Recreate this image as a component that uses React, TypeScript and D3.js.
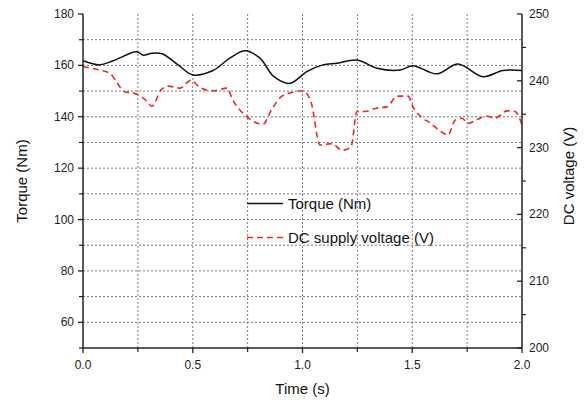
import React from "react";
import * as d3 from "d3";

const torqueTime = [0, 0.077, 0.137, 0.245, 0.273, 0.314, 0.36, 0.433, 0.501, 0.592, 0.67, 0.738, 0.806, 0.87, 0.943, 1.02, 1.093, 1.157, 1.248, 1.339, 1.444, 1.503, 1.613, 1.708, 1.822, 1.913, 2.0];
const torqueValues = [161.8, 160.2, 161.8, 165.3, 164.0, 164.7, 164.5, 160.2, 156.3, 158, 162.9, 165.7, 162.8, 155.6, 153, 157.6, 160.2, 160.8, 162.1, 158.9, 158.2, 159.9, 156.7, 160.5, 155.6, 158, 158];

const voltageTime = [0, 0.077, 0.123, 0.155, 0.187, 0.246, 0.282, 0.314, 0.355, 0.387, 0.442, 0.492, 0.533, 0.592, 0.656, 0.683, 0.747, 0.82, 0.861, 0.911, 1.002, 1.039, 1.08, 1.134, 1.18, 1.221, 1.248, 1.285, 1.335, 1.385, 1.431, 1.481, 1.503, 1.54, 1.581, 1.626, 1.663, 1.695, 1.727, 1.754, 1.795, 1.841, 1.877, 1.932, 1.968, 2.0];
const voltageValues = [242.1, 241.6, 241.1, 239.7, 238.4, 238.0, 237.2, 236.2, 238.6, 239.2, 238.9, 240.1, 239.0, 238.5, 238.9, 237.1, 234.6, 233.5, 235.8, 237.8, 238.5, 236.8, 230.4, 230.6, 229.6, 230.1, 235.4, 235.4, 235.9, 236.1, 237.7, 237.7, 236.1, 234.6, 233.7, 232.5, 231.9, 234.1, 234.4, 233.6, 234.2, 234.7, 234.4, 235.5, 235.4, 233.4];

const xMajorTicks = [0, 0.5, 1.0, 1.5, 2.0];
const xMinorTicks = [0.25, 0.75, 1.25, 1.75];
const leftMajorTicks = [60, 80, 100, 120, 140, 160, 180];
const leftMinorTicks = [50, 70, 90, 110, 130, 150, 170];
const gridTorque = [60, 70, 80, 90, 100, 110, 120, 130, 140, 150, 160, 170];
const rightMajorTicks = [200, 210, 220, 230, 240, 250];
const rightMinorTicks = [205, 215, 225, 235, 245];

const legendLabels = ["Torque (Nm)", "DC supply voltage (V)"];

const W = 586, H = 400;
const L = 83, R = 522, T = 14, B = 348;
const FONT = "'Liberation Sans', Arial, sans-serif";

export default function App() {
  const x = d3.scaleLinear().domain([0, 2]).range([L, R]);
  const yL = d3.scaleLinear().domain([50, 180]).range([B, T]);
  const yR = d3.scaleLinear().domain([200, 250]).range([B, T]);

  const torqueLine = d3.line<number>()
    .x((_, i) => x(torqueTime[i]))
    .y((d) => yL(d))
    .curve(d3.curveCatmullRom.alpha(0.5));
  const voltLine = d3.line<number>()
    .x((_, i) => x(voltageTime[i]))
    .y((d) => yR(d))
    .curve(d3.curveMonotoneX);

  const gridColor = "#7a7a7a";
  const axisColor = "#222";
  const red = "#e02a2a";

  return (
    <svg width={W} height={H} style={{ position: "absolute", left: 0, top: 0, background: "#fff" }} fontFamily={FONT}>
      <rect x={0} y={0} width={W} height={H} fill="#fff" />
      {/* grid */}
      {gridTorque.map((v) => (
        <line key={"gh" + v} x1={L} x2={R} y1={yL(v)} y2={yL(v)} stroke={gridColor} strokeWidth={1} strokeDasharray="2,2" />
      ))}
      {xMinorTicks.concat([0.5, 1.0, 1.5]).map((v) => (
        <line key={"gv" + v} x1={x(v)} x2={x(v)} y1={T} y2={B} stroke={gridColor} strokeWidth={1} strokeDasharray="2,2" />
      ))}
      {/* data */}
      <path d={torqueLine(torqueValues) || ""} fill="none" stroke="#111" strokeWidth={1.5} />
      <path d={voltLine(voltageValues) || ""} fill="none" stroke={red} strokeWidth={1.6} strokeDasharray="6,4" />
      {/* axes */}
      <line x1={L} x2={L} y1={T} y2={B} stroke={axisColor} strokeWidth={1.5} />
      <line x1={R} x2={R} y1={T} y2={B} stroke={axisColor} strokeWidth={1.5} />
      <line x1={L} x2={R} y1={B} y2={B} stroke={axisColor} strokeWidth={1.5} />
      {/* left ticks */}
      {leftMajorTicks.map((v) => (
        <g key={"lm" + v}>
          <line x1={L - 5} x2={L} y1={yL(v)} y2={yL(v)} stroke={axisColor} strokeWidth={1.3} />
          <text x={L - 9} y={yL(v) + 4} fontSize={12} textAnchor="end" fill="#222">{v}</text>
        </g>
      ))}
      {leftMinorTicks.map((v) => (
        <line key={"ln" + v} x1={L - 4} x2={L} y1={yL(v)} y2={yL(v)} stroke={axisColor} strokeWidth={1.2} />
      ))}
      {/* right ticks */}
      {rightMajorTicks.map((v) => (
        <g key={"rm" + v}>
          <line x1={R - 5} x2={R} y1={yR(v)} y2={yR(v)} stroke={axisColor} strokeWidth={1.3} />
          <text x={R + 7} y={yR(v) + 4} fontSize={12} textAnchor="start" fill="#222">{v}</text>
        </g>
      ))}
      {rightMinorTicks.map((v) => (
        <line key={"rn" + v} x1={R} x2={R + 4} y1={yR(v)} y2={yR(v)} stroke={axisColor} strokeWidth={1.2} />
      ))}
      {/* bottom ticks */}
      {xMajorTicks.map((v) => (
        <g key={"bm" + v}>
          <line x1={x(v)} x2={x(v)} y1={B} y2={B + 5} stroke={axisColor} strokeWidth={1.3} />
          <text x={x(v)} y={369} fontSize={12} textAnchor="middle" fill="#222">{v.toFixed(1)}</text>
        </g>
      ))}
      {xMinorTicks.map((v) => (
        <line key={"bn" + v} x1={x(v)} x2={x(v)} y1={B} y2={B + 4} stroke={axisColor} strokeWidth={1.2} />
      ))}
      {/* titles */}
      <text x={(L + R) / 2 + 0} y={394} fontSize={15} textAnchor="middle" fill="#111">Time (s)</text>
      <text transform={`translate(27,${(T + B) / 2}) rotate(-90)`} fontSize={15} textAnchor="middle" fill="#111">Torque (Nm)</text>
      <text transform={`translate(574,${(T + B) / 2 - 5}) rotate(-90)`} fontSize={15} textAnchor="middle" fill="#111">DC voltage (V)</text>
      {/* legend */}
      <line x1={247} x2={283} y1={203.5} y2={203.5} stroke="#111" strokeWidth={1.5} />
      <text x={288} y={209} fontSize={15} fill="#111">{legendLabels[0]}</text>
      <line x1={247} x2={283} y1={237.5} y2={237.5} stroke={red} strokeWidth={1.6} strokeDasharray="6,4" />
      <text x={288} y={243} fontSize={15} fill="#111">{legendLabels[1]}</text>
    </svg>
  );
}
